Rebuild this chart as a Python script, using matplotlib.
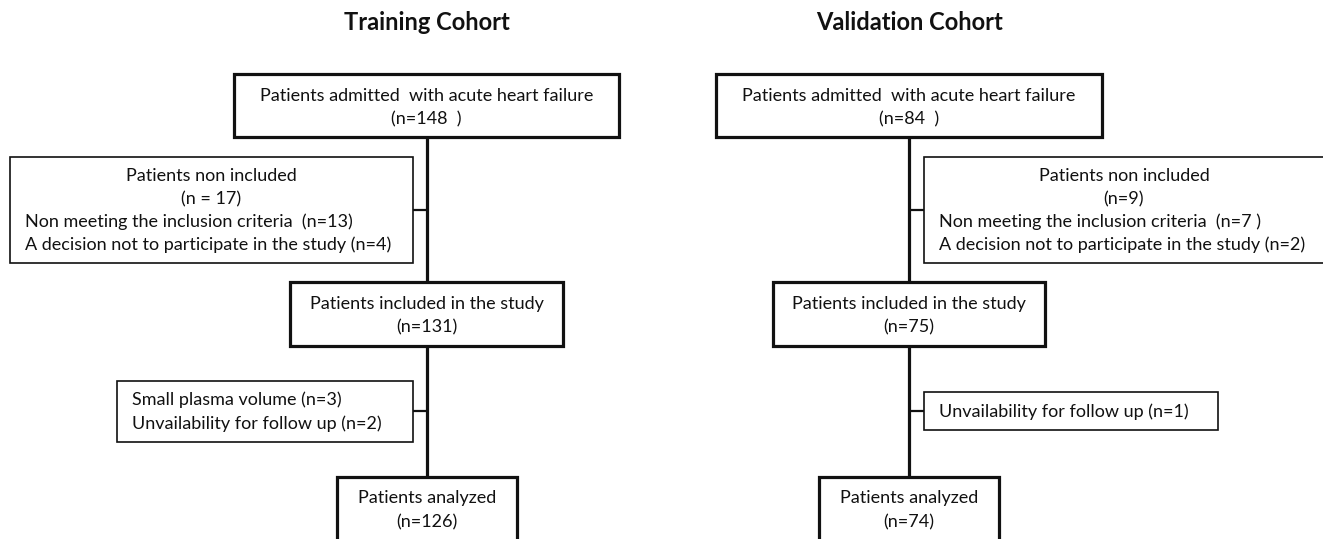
import matplotlib.pyplot as plt
from matplotlib.patches import Rectangle

plt.rcParams['font.family'] = ['Lato', 'DejaVu Sans']

# flowchart counts
cohorts = ["Training Cohort", "Validation Cohort"]
admitted = [148, 84]
non_included = [17, 9]
not_meeting = [13, 7]
declined = [4, 2]
included = [131, 75]
small_plasma = [3, None]
lost_followup = [2, 1]
analyzed = [126, 74]

W, H = 1323, 539
fig = plt.figure(figsize=(W / 100, H / 100), dpi=100)
ax = fig.add_axes([0, 0, 1, 1])
ax.set_xlim(0, W)
ax.set_ylim(H, 0)
ax.axis('off')

FS = 13.0
THICK = 2.3
THIN = 1.2


def box(x0, y0, x1, y1, lw):
    ax.add_patch(Rectangle((x0, y0), x1 - x0, y1 - y0, facecolor='white',
                           edgecolor='#111111', lw=lw, zorder=3))


def line(xs, ys, lw=THICK):
    ax.plot(xs, ys, color='#111111', lw=lw, zorder=1, solid_capstyle='butt')


def txt(x, y, s, ha='center', **kw):
    ax.text(x, y, s, ha=ha, va='center', fontsize=FS, color='#111111', zorder=4, **kw)


# layout for each cohort (pixel positions)
layout = [
    dict(cx=427, top=(234, 619), excl=(10, 413), excl_left=True, inc=(290, 563),
         loss=(117, 413, 381, 442), ana=(337, 517), title_x=427),
    dict(cx=909, top=(716, 1102), excl=(924, 1330), excl_left=False, inc=(773, 1045),
         loss=(924, 1218, 392, 430), ana=(819, 999), title_x=909),
]
nonincl_fmt = ["(n = {})", "(n={})"]
meet_fmt = ["Non meeting the inclusion criteria  (n={})", "Non meeting the inclusion criteria  (n={} )"]

for i, L in enumerate(layout):
    cx = L['cx']
    ax.text(L['title_x'], 23, cohorts[i], ha='center', va='center',
            fontsize=17, fontweight='bold', color='#111111')

    # spine
    line([cx, cx], [137, 477])

    # admitted
    box(L['top'][0], 74, L['top'][1], 137, THICK)
    tc = (L['top'][0] + L['top'][1]) / 2
    txt(tc, 96, "Patients admitted  with acute heart failure")
    txt(tc, 119, f"(n={admitted[i]}  )")

    # non included
    ex0, ex1 = L['excl']
    box(ex0, 157, ex1, 263, THIN)
    if L['excl_left']:
        line([ex1, cx], [210, 210], lw=THIN + 0.4)
    else:
        line([cx, ex0], [210, 210], lw=THIN + 0.4)
    ec = (ex0 + ex1) / 2 if L['excl_left'] else 1124
    txt(ec, 176, "Patients non included")
    txt(ec, 199, nonincl_fmt[i].format(non_included[i]))
    txt(ex0 + 15, 222, meet_fmt[i].format(not_meeting[i]), ha='left')
    txt(ex0 + 15, 245, f"A decision not to participate in the study (n={declined[i]})", ha='left')

    # included
    box(L['inc'][0], 282, L['inc'][1], 346, THICK)
    ic = (L['inc'][0] + L['inc'][1]) / 2
    txt(ic, 304, "Patients included in the study")
    txt(ic, 327, f"(n={included[i]})")

    # losses
    lx0, lx1, ly0, ly1 = L['loss']
    box(lx0, ly0, lx1, ly1, THIN)
    if L['excl_left']:
        line([lx1, cx], [411, 411], lw=THIN + 0.4)
    else:
        line([cx, lx0], [411, 411], lw=THIN + 0.4)
    lines = []
    if small_plasma[i] is not None:
        lines.append(f"Small plasma volume (n={small_plasma[i]})")
    lines.append(f"Unvailability for follow up (n={lost_followup[i]})")
    if len(lines) == 2:
        txt(lx0 + 15, 400, lines[0], ha='left')
        txt(lx0 + 15, 424, lines[1], ha='left')
    else:
        txt(lx0 + 15, 412, lines[0], ha='left')

    # analyzed
    box(L['ana'][0], 477, L['ana'][1], 560, THICK)
    ac = (L['ana'][0] + L['ana'][1]) / 2
    txt(ac, 498, "Patients analyzed")
    txt(ac, 522, f"(n={analyzed[i]})")

fig.savefig('out.png', dpi=100)
